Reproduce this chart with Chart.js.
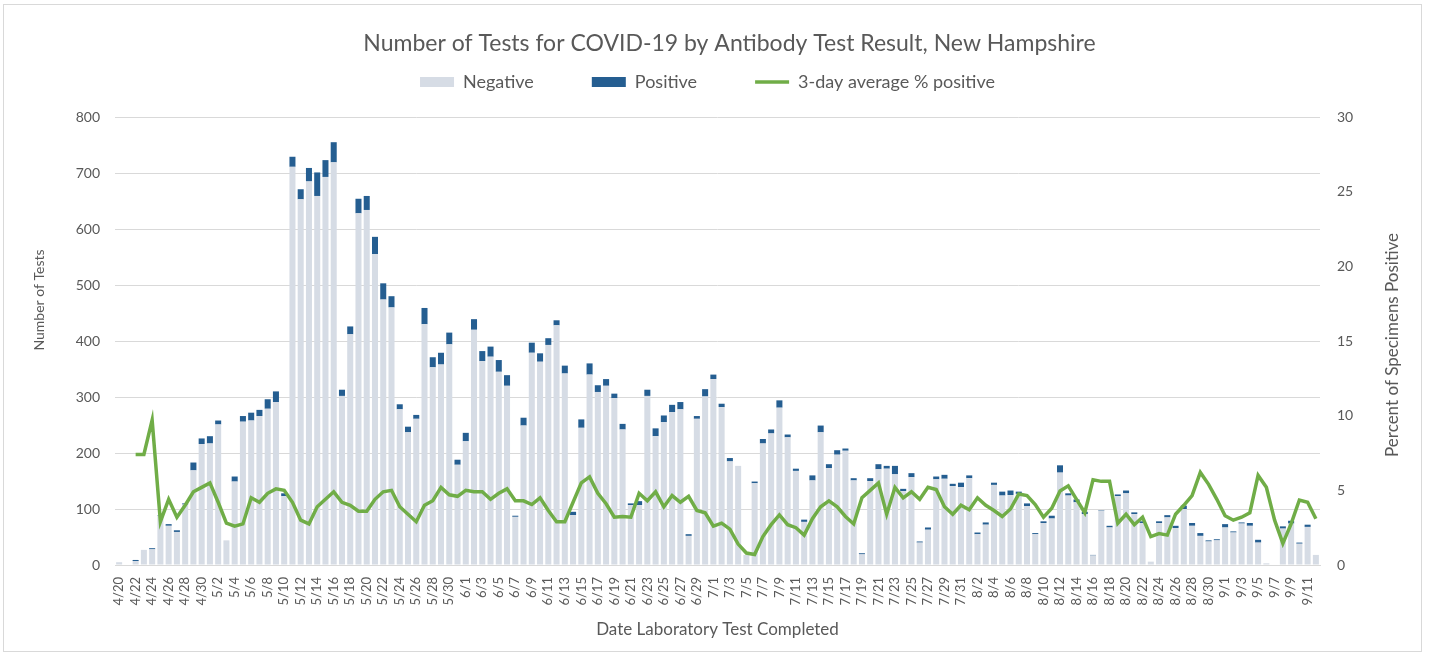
<!DOCTYPE html>
<html>
<head>
<meta charset="utf-8">
<title>Antibody tests, New Hampshire</title>
<script src="https://cdn.jsdelivr.net/npm/chart.js@4.4.1/dist/chart.umd.min.js"></script>
<style>
  html, body { margin: 0; padding: 0; background: #fff; }
</style>
</head>
<body>
<canvas id="chart" width="1429" height="658"></canvas>
<script>
'use strict';

// dates the lab test was completed (4/20 - 9/12)
const dates = [
    '4/20', '4/21', '4/22', '4/23', '4/24', '4/25', '4/26', '4/27', '4/28', '4/29', '4/30',
    '5/1', '5/2', '5/3', '5/4', '5/5', '5/6', '5/7', '5/8', '5/9', '5/10', '5/11', '5/12', '5/13', '5/14', '5/15', '5/16',
    '5/17', '5/18', '5/19', '5/20', '5/21', '5/22', '5/23', '5/24', '5/25', '5/26', '5/27', '5/28', '5/29', '5/30', '5/31',
    '6/1', '6/2', '6/3', '6/4', '6/5', '6/6', '6/7', '6/8', '6/9', '6/10', '6/11', '6/12', '6/13', '6/14', '6/15',
    '6/16', '6/17', '6/18', '6/19', '6/20', '6/21', '6/22', '6/23', '6/24', '6/25', '6/26', '6/27', '6/28', '6/29', '6/30',
    '7/1', '7/2', '7/3', '7/4', '7/5', '7/6', '7/7', '7/8', '7/9', '7/10', '7/11', '7/12', '7/13', '7/14', '7/15', '7/16',
    '7/17', '7/18', '7/19', '7/20', '7/21', '7/22', '7/23', '7/24', '7/25', '7/26', '7/27', '7/28', '7/29', '7/30', '7/31',
    '8/1', '8/2', '8/3', '8/4', '8/5', '8/6', '8/7', '8/8', '8/9', '8/10', '8/11', '8/12', '8/13', '8/14', '8/15', '8/16',
    '8/17', '8/18', '8/19', '8/20', '8/21', '8/22', '8/23', '8/24', '8/25', '8/26', '8/27', '8/28', '8/29', '8/30', '8/31',
    '9/1', '9/2', '9/3', '9/4', '9/5', '9/6', '9/7', '9/8', '9/9', '9/10', '9/11', '9/12'
];

const negative = [
    5, 0, 7, 27, 28, 88, 70, 59, 108, 169, 216,
    217, 251, 44, 149, 256, 258, 266, 279, 291, 123, 711, 653, 685, 659, 693, 719,
    302, 412, 628, 634, 555, 474, 460, 278, 237, 261, 430, 353, 358, 394, 179,
    221, 420, 364, 372, 345, 320, 86, 249, 379, 363, 393, 428, 342, 89, 245,
    340, 309, 320, 298, 242, 107, 107, 302, 230, 255, 273, 278, 52, 261, 301,
    332, 282, 185, 177, 18, 146, 217, 235, 281, 228, 168, 77, 151, 237, 173, 197,
    204, 151, 19, 150, 171, 172, 162, 132, 157, 40, 63, 153, 154, 141, 139,
    155, 55, 72, 143, 124, 125, 127, 105, 55, 75, 83, 165, 124, 112, 91, 17,
    97, 67, 123, 128, 91, 75, 6, 75, 85, 66, 100, 70, 52, 42, 44,
    67, 58, 74, 70, 40, 3, 0, 65, 74, 38, 68, 18
];

const positive = [
    0, 0, 2, 0, 2, 1, 3, 3, 2, 14, 10,
    13, 7, 0, 9, 10, 14, 11, 17, 19, 5, 18, 18, 24, 42, 30, 36,
    11, 14, 26, 25, 31, 29, 20, 9, 10, 7, 29, 18, 21, 21, 9,
    15, 19, 18, 18, 21, 19, 2, 14, 18, 15, 12, 9, 14, 6, 15,
    20, 12, 12, 8, 10, 3, 7, 11, 14, 12, 13, 13, 3, 5, 13,
    8, 6, 6, 0, 0, 3, 8, 7, 13, 5, 4, 4, 9, 12, 7, 8,
    4, 4, 2, 5, 9, 5, 15, 4, 7, 2, 4, 5, 7, 4, 8,
    5, 3, 4, 4, 7, 8, 4, 5, 2, 3, 5, 13, 4, 5, 4, 1,
    1, 3, 3, 5, 3, 3, 0, 3, 4, 4, 6, 5, 5, 2, 2,
    6, 2, 2, 5, 5, 0, 0, 4, 5, 2, 4, 0
];

// 3-day average % positive (right axis)
const pctPositive = [
    null, null, 7.4, 7.4, 9.7, 2.9, 4.4, 3.2, 4.0, 4.9, 5.2,
    5.5, 4.2, 2.8, 2.6, 2.75, 4.5, 4.2, 4.8, 5.1, 5.0, 4.2, 3.0, 2.75, 3.9, 4.4, 4.9,
    4.2, 4.0, 3.6, 3.6, 4.4, 4.9, 5.0, 3.9, 3.4, 2.9, 4.0, 4.3, 5.2, 4.7, 4.6,
    5.0, 4.9, 4.9, 4.4, 4.8, 5.1, 4.3, 4.3, 4.05, 4.5, 3.65, 2.9, 2.9, 4.2, 5.5,
    5.9, 4.8, 4.1, 3.2, 3.25, 3.2, 4.8, 4.3, 4.9, 3.9, 4.65, 4.2, 4.6, 3.65, 3.5,
    2.6, 2.8, 2.4, 1.4, 0.8, 0.7, 1.9, 2.7, 3.35, 2.7, 2.5, 2.0, 3.1, 3.9, 4.3, 3.9,
    3.25, 2.75, 4.5, 5.0, 5.5, 3.4, 5.2, 4.5, 4.9, 4.4, 5.2, 5.05, 3.9, 3.4, 4.0,
    3.7, 4.5, 4.0, 3.65, 3.25, 3.75, 4.75, 4.65, 4.05, 3.2, 3.8, 4.95, 5.3, 4.4, 3.5, 5.7,
    5.6, 5.6, 2.8, 3.4, 2.7, 3.2, 1.9, 2.1, 2.0, 3.4, 4.0, 4.65, 6.2, 5.4, 4.4,
    3.3, 3.0, 3.2, 3.5, 6.0, 5.2, 3.0, 1.45, 2.75, 4.35, 4.2, 3.1
];

const FONT = 'Lato';
const TEXT = '#595959';
const GRID = '#d9d9d9';

// outer frame + axis titles that read bottom-to-top on both sides
const framePlugin = {
    id: 'frame',
    beforeDraw(chart) {
        const ctx = chart.ctx;
        ctx.save();
        ctx.strokeStyle = GRID;
        ctx.lineWidth = 1;
        ctx.strokeRect(3.5, 4.5, 1418, 647);
        ctx.restore();
    },
    afterDraw(chart) {
        const ctx = chart.ctx;
        ctx.save();
        ctx.font = '14px ' + FONT;
        ctx.fillStyle = TEXT;
        ctx.textAlign = 'center';
        ctx.textBaseline = 'middle';
        ctx.translate(39, 300);
        ctx.rotate(-Math.PI / 2);
        ctx.fillText('Number of Tests', 0, 0);
        ctx.restore();

        ctx.save();
        ctx.font = '17px ' + FONT;
        ctx.fillStyle = TEXT;
        ctx.textAlign = 'center';
        ctx.textBaseline = 'middle';
        ctx.translate(1393, 345);
        ctx.rotate(-Math.PI / 2);
        ctx.fillText('Percent of Specimens Positive', 0, 0);
        ctx.restore();
    }
};

// shift a box's drawing sideways by dx pixels
function nudge(box, dx) {
    const draw = box.draw;
    box.draw = function (...args) {
        this.ctx.save();
        this.ctx.translate(dx, 0);
        draw.apply(this, args);
        this.ctx.restore();
    };
}

// title takes no layout room, the legend box below it spans down to the plot
const headerBoxes = {
    id: 'headerBoxes',
    beforeInit(chart) {
        const title = chart.titleBlock;
        const tupdate = title.update;
        title.update = function (maxWidth, maxHeight, margins) {
            tupdate.call(this, maxWidth, maxHeight, margins);
            this.height = 0;
        };
        nudge(title, 15);
        const legend = chart.legend;
        const lfit = legend.fit;
        legend.fit = function () {
            lfit.call(this);
            this.height = 102;
        };
        nudge(legend, -7);
    }
};

const ctx = document.getElementById('chart').getContext('2d');
new Chart(ctx, {
    type: 'bar',
    data: {
        labels: dates,
        datasets: [{
            label: 'Negative',
            data: negative,
            backgroundColor: '#d6dce5',
            stack: 'tests',
            order: 2
        }, {
            label: 'Positive',
            data: positive,
            backgroundColor: '#255e91',
            stack: 'tests',
            order: 2
        }, {
            type: 'line',
            label: '3-day average % positive',
            data: pctPositive,
            yAxisID: 'y1',
            borderColor: '#70ad47',
            backgroundColor: '#70ad47',
            borderWidth: 3.5,
            pointRadius: 0,
            tension: 0,
            order: 1
        }]
    },
    options: {
        responsive: false,
        animation: false,
        layout: { padding: { top: 15, left: 0, right: 0, bottom: 0 } },
        datasets: {
            bar: { barPercentage: 1, categoryPercentage: 0.73 }
        },
        plugins: {
            tooltip: { enabled: false },
            title: {
                display: true,
                text: 'Number of Tests for COVID-19 by Antibody Test Result, New Hampshire',
                color: TEXT,
                font: { family: FONT, size: 23, weight: 'normal' },
                padding: { top: 15, bottom: 0 }
            },
            legend: {
                position: 'top',
                labels: {
                    color: TEXT,
                    font: { family: FONT, size: 18 },
                    padding: 58,
                    boxWidth: 34,
                    boxHeight: 10,
                    usePointStyle: true,
                    pointStyleWidth: 34,
                    sort: (a, b) => a.datasetIndex - b.datasetIndex,
                    generateLabels(chart) {
                        const items = Chart.defaults.plugins.legend.labels.generateLabels(chart);
                        items.forEach(it => {
                            it.pointStyle = it.datasetIndex === 2 ? 'line' : 'rect';
                        });
                        return items;
                    }
                }
            }
        },
        scales: {
            x: {
                stacked: true,
                grid: { display: false },
                border: { color: GRID },
                ticks: {
                    color: TEXT,
                    font: { family: FONT, size: 13 },
                    autoSkip: false,
                    minRotation: 90,
                    maxRotation: 90,
                    padding: 4,
                    callback(value, index) {
                        return index % 2 === 0 ? dates[index] : '';
                    }
                },
                title: {
                    display: true,
                    text: 'Date Laboratory Test Completed',
                    color: TEXT,
                    font: { family: FONT, size: 17 },
                    padding: { top: 0, bottom: 18 }
                },
                afterFit(scale) { scale.height = 93; }
            },
            y: {
                stacked: true,
                min: 0,
                max: 800,
                grid: { color: GRID, drawTicks: false },
                border: { display: false },
                ticks: {
                    stepSize: 100,
                    color: TEXT,
                    font: { family: FONT, size: 14 },
                    padding: 15
                },
                afterFit(scale) { scale.width = 115; }
            },
            y1: {
                position: 'right',
                min: 0,
                max: 30,
                grid: { drawOnChartArea: false, drawTicks: false },
                border: { display: false },
                ticks: {
                    stepSize: 5,
                    color: TEXT,
                    font: { family: FONT, size: 14 },
                    padding: 17
                },
                afterFit(scale) { scale.width = 109; }
            }
        }
    },
    plugins: [framePlugin, headerBoxes]
});
</script>
</body>
</html>
